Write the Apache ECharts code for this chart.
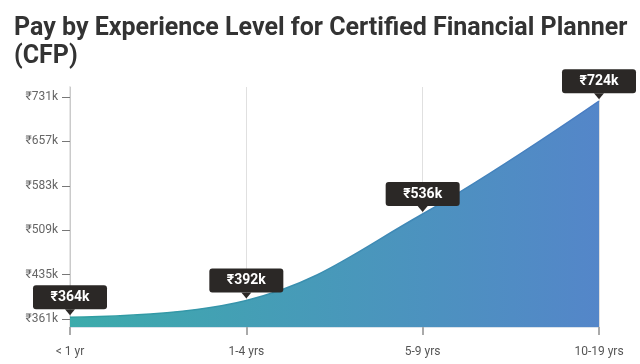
<!DOCTYPE html>
<html>
<head>
<meta charset="utf-8">
<script src="https://cdn.jsdelivr.net/npm/echarts@6/dist/echarts.min.js"></script>
<style>
html,body{margin:0;padding:0;background:#fff;}
#c{width:640px;height:364px;}
</style>
</head>
<body>
<div id="c"></div>
<script>
const categories = ['< 1 yr', '1-4 yrs', '5-9 yrs', '10-19 yrs'];
const payValues = [364, 392, 536, 724];
const yTicks = [361, 435, 509, 583, 657, 731];
const titleText = 'Pay by Experience Level for Certified Financial Planner\n(CFP)';

const chart = echarts.init(document.getElementById('c'), null, {renderer: 'canvas'});
const fmt = v => '\u20B9' + v + 'k';
chart.setOption({
  animation: false,
  backgroundColor: '#fff',
  title: {
    text: titleText,
    left: 9,
    top: 9,
    textStyle: {fontFamily: 'Roboto', fontWeight: 'bold', fontSize: 25, lineHeight: 28.5, color: '#333'}
  },
  grid: {left: 70, right: 41, top: 87, bottom: 37},
  xAxis: {
    type: 'category',
    data: categories,
    boundaryGap: false,
    z: 3,
    axisLine: {show: true, lineStyle: {color: 'rgba(0,60,120,0.15)'}},
    axisTick: {show: true, length: 8, lineStyle: {color: '#aaa', width: 2}},
    axisLabel: {margin: 19, fontFamily: 'Roboto', fontSize: 12, color: '#555'},
    splitLine: {show: true, lineStyle: {color: 'rgba(0,0,0,0.12)', width: 1}}
  },
  yAxis: {
    type: 'value',
    min: 347.7,
    max: 747.7,
    axisLine: {show: true, lineStyle: {color: '#e6e6e6', width: 2}},
    axisTick: {show: true, length: 8, customValues: yTicks, lineStyle: {color: '#777'}},
    axisLabel: {customValues: yTicks, formatter: fmt, margin: 12, fontFamily: 'Roboto', fontSize: 12, color: '#666'},
    splitLine: {show: false}
  },
  series: [{
    type: 'line',
    data: payValues,
    smooth: 0.4,
    silent: true,
    symbol: 'triangle',
    symbolRotate: 180,
    symbolSize: [10, 6],
    symbolOffset: [0, -5],
    itemStyle: {color: '#2b2826'},
    lineStyle: {
      width: 1.5,
      color: new echarts.graphic.LinearGradient(0, 0, 1, 0, [
        {offset: 0, color: '#2e9fa0'}, {offset: 1, color: '#4a7cc4'}
      ])
    },
    areaStyle: {
      opacity: 1,
      color: new echarts.graphic.LinearGradient(0, 0, 1, 0, [
        {offset: 0, color: '#3cabab'}, {offset: 1, color: '#5486c9'}
      ])
    },
    label: {
      show: true,
      position: 'top',
      distance: 0,
      formatter: p => fmt(p.value),
      backgroundColor: '#2b2826',
      borderRadius: 3,
      color: '#fff',
      fontFamily: 'Roboto',
      fontWeight: 'bold',
      fontSize: 14,
      width: 74,
      height: 16,
      lineHeight: 16,
      align: 'center',
      padding: [4, 0]
    },
    emphasis: {disabled: true}
  }]
});
</script>
</body>
</html>
